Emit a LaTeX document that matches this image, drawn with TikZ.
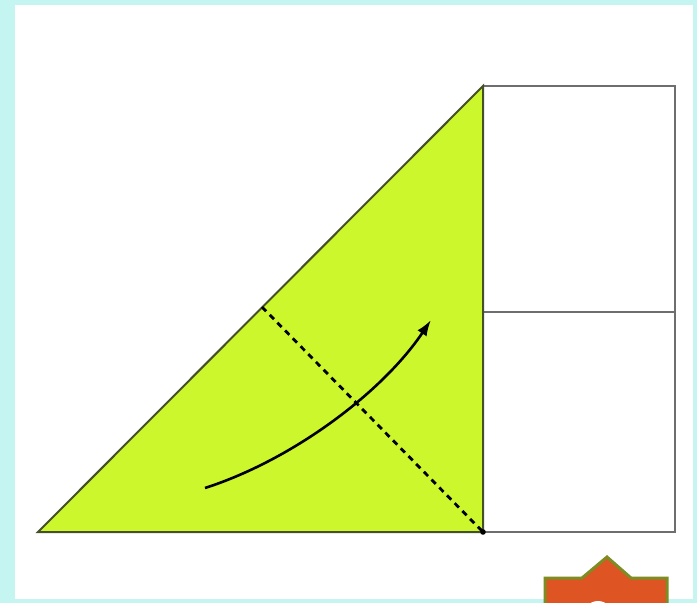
\documentclass[tikz,border=0pt]{standalone}
\usetikzlibrary{arrows.meta}
\definecolor{bgcyan}{RGB}{196,245,240}
\definecolor{leaf}{RGB}{205,247,45}
\definecolor{edge}{RGB}{70,80,40}
\definecolor{rectline}{RGB}{110,110,110}
\definecolor{badge}{RGB}{222,84,34}
\definecolor{badgeedge}{RGB}{125,140,35}
\tikzset{
  foldline/.style={black, line width=2.8pt, dash pattern=on 6pt off 5pt},
  flaparrow/.style={black, line width=2.6pt, -{Latex[length=16pt,width=11pt]}},
  panel/.style={draw=rectline, line width=2pt}
}
\begin{document}
\begin{tikzpicture}[x=1pt,y=-1pt]
\useasboundingbox (0,0) rectangle (697,603);
\clip (0,0) rectangle (697,603);
\fill[bgcyan] (0,0) rectangle (697,603);
\fill[white] (15,5) rectangle (693,599);
% right panels
\coordinate (rtl) at (483,86);
\coordinate (rtr) at (675,86);
\coordinate (rml) at (483,312);
\coordinate (rmr) at (675,312);
\coordinate (rbl) at (483,532);
\coordinate (rbr) at (675,532);
\draw[panel] (rtl) -- (rtr) -- (rbr) -- (rbl);
\draw[panel] (rml) -- (rmr);
% triangle
\coordinate (a) at (38,532);
\coordinate (b) at (483,86);
\coordinate (c) at (483,532);
\fill[leaf] (a) -- (b) -- (c) -- cycle;
\draw[edge, line width=2pt, line join=miter] (a) -- (b) -- (c) -- cycle;
% fold line
\coordinate (f1) at (262,307);
\coordinate (f2) at (483,532);
\draw[foldline] (f1) -- (f2);
\fill[black] (f2) circle (2.8pt);
% arrow
\coordinate (s) at (205,488);
\coordinate (e) at (431,320);
\draw[flaparrow] (s) .. controls (292,460) and (382,393) .. (e);
% badge
\filldraw[fill=badge, draw=badgeedge, line width=3pt, line join=miter]
  (545,620) -- (545,578) -- (582,578) -- (607,557) -- (631,578) -- (667,578) -- (667,620) -- cycle;
\fill[white] (598,616) circle (15pt);
\end{tikzpicture}
\end{document}
